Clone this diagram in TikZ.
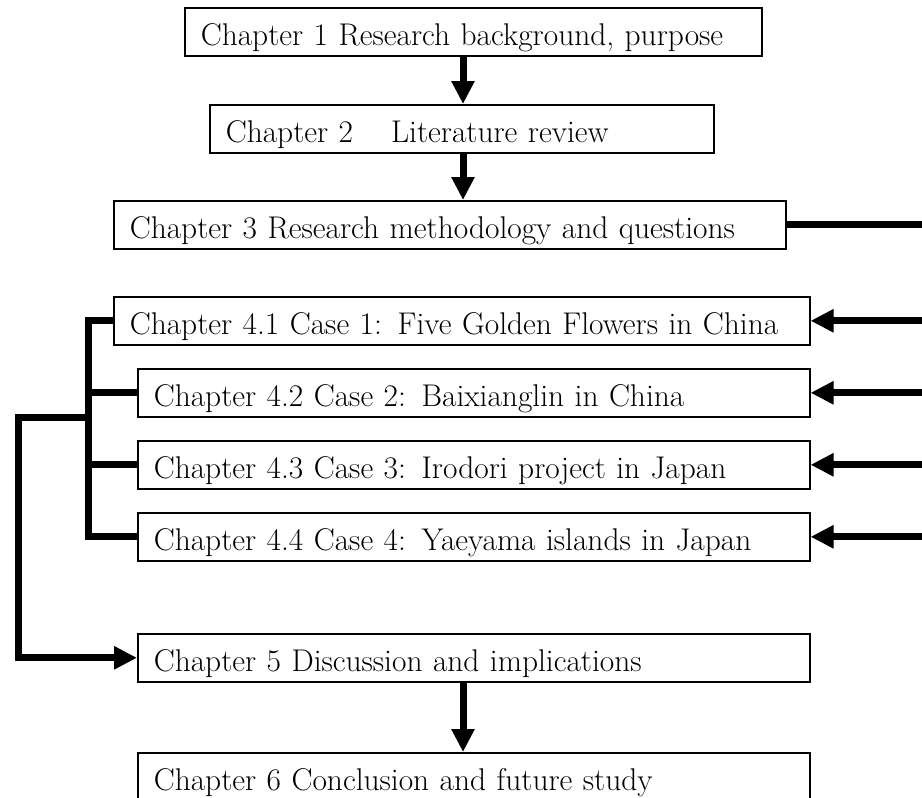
\documentclass[tikz,border=0pt]{standalone}
\usetikzlibrary{arrows.meta}
\begin{document}
\begin{tikzpicture}[x=1pt,y=-1pt,
  box/.style={draw, line width=1.6pt, anchor=north west, inner xsep=0pt,
    inner ysep=0pt, text height=38pt, text depth=10pt, align=left,
    execute at begin node=\hspace*{16pt},
    font=\fontsize{31.4}{36}\selectfont},
  flow/.style={line width=7pt, line join=miter, -{Triangle[length=23pt,width=22pt]}},
  link/.style={line width=7pt, line join=miter}]
\useasboundingbox (0,0) rectangle (922,798);

% chapter boxes (text width = full box width)
\node[box, text width=577pt] (c1)  at (184,7)   {Chapter 1 Research background, purpose};
\node[box, text width=504pt] (c2)  at (209,104) {Chapter 2\hspace{38pt}Literature review};
\node[box, text width=672pt] (c3)  at (113,200) {Chapter 3 Research methodology and questions};
\node[box, text width=696pt] (c41) at (113,296) {Chapter 4.1 Case 1: Five Golden Flowers in China};
\node[box, text width=672pt] (c42) at (137,368) {Chapter 4.2 Case 2: Baixianglin in China};
\node[box, text width=672pt] (c43) at (137,440) {Chapter 4.3 Case 3: Irodori project in Japan};
\node[box, text width=672pt] (c44) at (137,512) {Chapter 4.4 Case 4: Yaeyama islands in Japan};
\node[box, text width=672pt] (c5)  at (137,633) {Chapter 5 Discussion and implications};
\node[box, text width=672pt] (c6)  at (137,752) {Chapter 6 Conclusion and future study};

% main vertical flow
\coordinate (ax) at (463,0);
\draw[flow] (c1.south -| ax) -- (c2.north -| ax);
\draw[flow] (c2.south -| ax) -- (c3.north -| ax);
\draw[flow] (c5.south -| ax) -- (c6.north -| ax);

% right-hand feed from chapter 3 to the four cases
\coordinate (r3)  at (922,0 |- c3.east);
\coordinate (r41) at (922,0 |- c41.east);
\coordinate (r42) at (922,0 |- c42.east);
\coordinate (r43) at (922,0 |- c43.east);
\coordinate (r44) at (922,0 |- c44.east);
\draw[link] (c3.east) -- (r3);
\draw[flow] (r41) -- (c41.east);
\draw[flow] (r42) -- (c42.east);
\draw[flow] (r43) -- (c43.east);
\draw[flow] (r44) -- (c44.east);

% left bracket gathering the cases into chapter 5
\coordinate (bt) at (88,0 |- c41.west);
\coordinate (bb) at (88,0 |- c44.west);
\coordinate (bj) at (88,417);
\coordinate (lo) at (18,417);
\draw[link] (c41.west) -- (bt) -- (bb) -- (c44.west);
\draw[link] (c42.west) -- (c42.west -| bt);
\draw[link] (c43.west) -- (c43.west -| bt);
\draw[flow] (bj) -- (lo) |- (c5.west);
\end{tikzpicture}
\end{document}
